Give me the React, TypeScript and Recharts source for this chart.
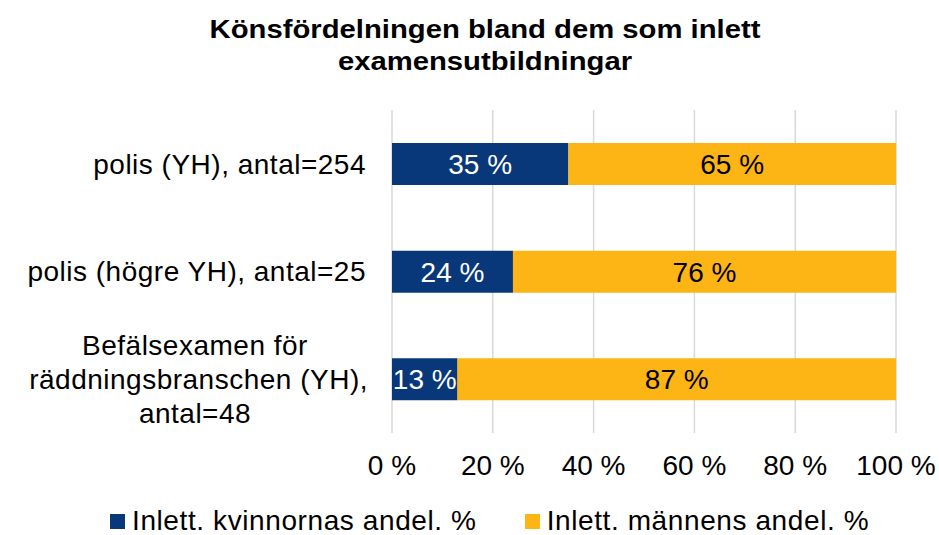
import { BarChart, Bar, XAxis, YAxis, CartesianGrid, Legend, LabelList } from "recharts";

const categories = [
  ["polis (YH), antal=254"],
  ["polis (högre YH), antal=25"],
  ["Befälsexamen för", "räddningsbranschen (YH),", "antal=48"],
];
const womenShare = [35, 24, 13];
const menShare = [65, 76, 87];
const xTicks = [0, 20, 40, 60, 80, 100];
const seriesNames = ["Inlett. kvinnornas andel. %", "Inlett. männens andel. %"];
const titleLines = ["Könsfördelningen bland dem som inlett", "examensutbildningar"];

const BLUE = "#08387a";
const YELLOW = "#fdb515";
const FONT = "'Liberation Sans', Arial, sans-serif";

const data = categories.map((lines, i) => ({
  name: lines.join(" "),
  lines,
  women: womenShare[i],
  men: menShare[i],
}));

function CategoryTick(props: any) {
  const { x, y, payload } = props;
  const lines: string[] = data[payload.index]?.lines ?? [payload.value];
  const txt = { fontSize: 28, fill: "#000", fontFamily: FONT, letterSpacing: 0.5 };
  if (lines.length === 1) {
    return (
      <text x={x} y={y} dy="0.35em" textAnchor="end" {...txt}>
        {lines[0]}
      </text>
    );
  }
  const lh = 34;
  const start = y - ((lines.length - 1) * lh) / 2;
  // excel centers wrapped lines, the wide middle one overflows to the right edge
  return (
    <g>
      {lines.map((l, i) => {
        const wide = l.length > 20;
        return (
          <text
            key={i}
            x={wide ? x + 2 : x - 171}
            y={start + i * lh}
            dy="0.35em"
            textAnchor={wide ? "end" : "middle"}
            {...txt}
          >
            {l}
          </text>
        );
      })}
    </g>
  );
}

function PercentTick(props: any) {
  const { x, y, payload } = props;
  return (
    <text x={x} y={y + 24} dy="0.35em" textAnchor="middle" fontSize={28} fill="#000" fontFamily={FONT}>
      {payload.value} %
    </text>
  );
}

function LegendContent() {
  const colors = [BLUE, YELLOW];
  return (
    <div
      style={{
        display: "flex",
        gap: 48,
        fontFamily: FONT,
        fontSize: 28,
        letterSpacing: 0.6,
        marginTop: 6,
        paddingLeft: 110,
      }}
    >
      {seriesNames.map((n, i) => (
        <div key={n} style={{ display: "flex", alignItems: "center" }}>
          <span style={{ display: "inline-block", width: 15, height: 15, background: colors[i], marginRight: 7 }} />
          <span>{n}</span>
        </div>
      ))}
    </div>
  );
}

export default function App() {
  return (
    <div style={{ position: "absolute", left: 0, top: 0, width: 939, height: 535, background: "#fff" }}>
      <div
        style={{
          position: "absolute",
          top: 13,
          left: 0,
          width: 970,
          textAlign: "center",
          fontFamily: FONT,
          fontWeight: 700,
          fontSize: 25,
          lineHeight: "32px",
          transform: "scaleX(1.17)",
          transformOrigin: "485px 0",
        }}
      >
        {titleLines.map((t) => (
          <div key={t}>{t}</div>
        ))}
      </div>
      <BarChart
        width={939}
        height={535}
        data={data}
        layout="vertical"
        margin={{ top: 110, right: 43, bottom: 0, left: 0 }}
        barSize={42}
      >
        <CartesianGrid horizontal={false} stroke="#d9d9d9" strokeWidth={1.5} />
        <XAxis
          type="number"
          domain={[0, 100]}
          ticks={xTicks}
          axisLine={false}
          tickLine={false}
          tick={<PercentTick />}
          height={66}
        />
        <YAxis
          type="category"
          dataKey="name"
          width={392}
          axisLine={false}
          tickLine={false}
          tickMargin={20}
          tick={<CategoryTick />}
        />
        <Legend verticalAlign="bottom" height={36} content={<LegendContent />} />
        <Bar dataKey="women" stackId="a" fill={BLUE} name={seriesNames[0]} isAnimationActive={false}>
          <LabelList
            dataKey="women"
            position="center"
            fill="#fff"
            fontSize={28}
            fontFamily={FONT}
            formatter={(v: any) => `${v} %`}
          />
        </Bar>
        <Bar dataKey="men" stackId="a" fill={YELLOW} name={seriesNames[1]} isAnimationActive={false}>
          <LabelList
            dataKey="men"
            position="center"
            fill="#000"
            fontSize={28}
            fontFamily={FONT}
            formatter={(v: any) => `${v} %`}
          />
        </Bar>
      </BarChart>
    </div>
  );
}
